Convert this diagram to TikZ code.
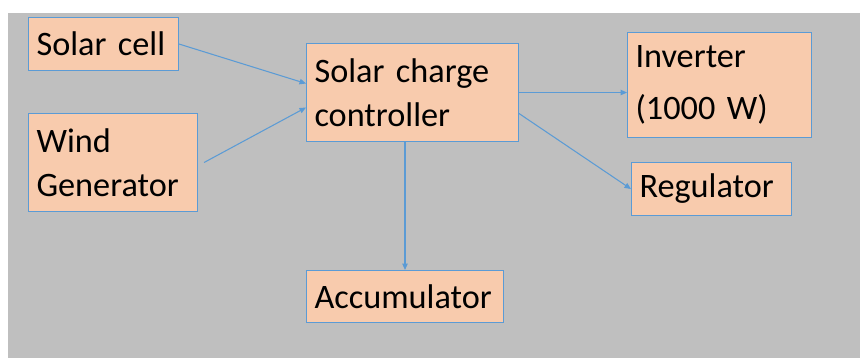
\documentclass[tikz,border=0pt]{standalone}
\usepackage{fontspec}
\setmainfont{Carlito}
\usetikzlibrary{arrows.meta}
\definecolor{peach}{HTML}{F8CBAD}
\definecolor{edgeblue}{HTML}{5B9BD5}
\definecolor{backgray}{HTML}{BFBFBF}
\tikzset{
	block/.style={draw=edgeblue, fill=peach, line width=0.6pt, anchor=north west, align=left, inner xsep=0.16cm, inner ysep=0pt, font=\fontsize{19.5}{25}\selectfont},
	link/.style={draw=edgeblue, line width=0.6pt, -{Triangle[length=0.13cm,width=0.11cm]}}
}
\begin{document}
\begin{tikzpicture}[x=0.02cm, y=-0.02cm]
		%%%%% START %%%%%
		\useasboundingbox (0,0) rectangle (860,358);
		\fill[backgray] (8,13) rectangle (860,358);
		
		\node[block, text width=2.68cm, minimum height=1.06cm] (solar) at (28,17) {Solar cell};
		\node[block, text width=3.06cm, minimum height=1.96cm] (wind) at (28,113) {Wind\\Generator};
		\node[block, text width=3.92cm, minimum height=1.96cm] (ctrl) at (306,43) {Solar charge\\controller};
		\node[block, text width=3.36cm, minimum height=2.10cm] (inv) at (627,32) {Inverter\\[4.5pt](1000 W)};
		\node[block, text width=2.88cm, minimum height=1.06cm] (reg) at (631,162) {Regulator};
		\node[block, text width=3.62cm, minimum height=1.04cm] (acc) at (306,270) {Accumulator};
		
		\draw[link] (solar.east) -- ([yshift=0.18cm]ctrl.west);
		\draw[link] ([xshift=0.12cm]wind.east) -- ([yshift=-0.3cm]ctrl.west);
		\draw[link] (ctrl.east) -- (ctrl.east -| inv.west);
		\draw[link] ([yshift=-0.42cm]ctrl.east) -- (reg.west);
		\draw[link] (ctrl.south -| acc.north) -- (acc.north);
		%%%%% END %%%%%
\end{tikzpicture}
\end{document}
